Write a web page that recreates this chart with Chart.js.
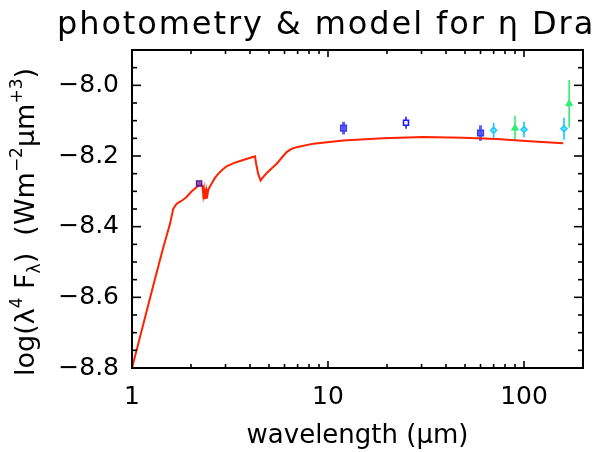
<!DOCTYPE html>
<html>
<head>
<meta charset="utf-8">
<script src="https://cdn.jsdelivr.net/npm/chart.js@4/dist/chart.umd.min.js"></script>
<style>
  html, body { margin: 0; padding: 0; background: #ffffff; }
  #wrap { width: 603px; height: 452px; }
</style>
</head>
<body>
<div id="wrap"><canvas id="c" width="603" height="452"></canvas></div>
<script>
// ---------- data ----------
const titleText = 'photometry & model for \u03B7 Dra';
const xAxisTitle = 'wavelength (\u03BCm)';

// model SED (wavelength in micron, log(lambda^4 F_lambda))
const modelWave = [1.00, 1.285, 1.445, 1.563, 1.625, 1.69, 1.75, 1.80, 1.90, 2.00, 2.14, 2.22,
  2.29, 2.31, 2.33, 2.35, 2.37, 2.39, 2.41, 2.43, 2.45, 2.50, 2.55, 2.65, 2.76, 2.90, 3.04, 3.30, 3.56, 3.90,
  4.24, 4.30, 4.40, 4.53, 4.70, 4.87, 5.47, 6.15, 6.50, 6.92, 8.42, 11.97, 19.1, 30.6, 49.0, 72.6, 107.0, 158.5];
const modelFlux = [-8.80, -8.566, -8.458, -8.392, -8.349, -8.335, -8.330, -8.326, -8.316, -8.302, -8.288, -8.279,
  -8.285, -8.310, -8.296, -8.322, -8.306, -8.318, -8.300, -8.308, -8.296, -8.286, -8.278, -8.262, -8.250, -8.238, -8.229, -8.220, -8.214, -8.207,
  -8.201, -8.222, -8.250, -8.269, -8.258, -8.248, -8.222, -8.189, -8.180, -8.175, -8.165, -8.156, -8.150, -8.146, -8.148, -8.152, -8.158, -8.164];

// photometry groups
const nirWave = [2.2];
const nirFlux = [-8.278];
const nirErr  = [0.004];

const irasFilledWave = [12.0, 60.0];
const irasFilledFlux = [-8.121, -8.135];
const irasFilledErr  = [0.018, 0.022];

const irasOpenWave = [25.0];
const irasOpenFlux = [-8.106];
const irasOpenErr  = [0.017];

const pacsWave = [70.0, 100.0, 160.0];
const pacsFlux = [-8.127, -8.125, -8.123];
const pacsErr  = [0.021, 0.022, 0.031];

const akariWave = [90.0, 170.0];
const akariFlux = [-8.121, -8.052];
const akariErr  = [0.035, 0.067];

// axes
const xMin = 1, xMax = 200;
const yMin = -8.8, yMax = -7.9;
const xTickLabels = [1, 10, 100];
const xMinorTicks = [2, 3, 4, 5, 6, 7, 8, 9, 20, 30, 40, 50, 60, 70, 80, 90];
const yMajorTicks = [-8.8, -8.6, -8.4, -8.2, -8.0];
const yMinorTicks = [-8.75, -8.7, -8.65, -8.55, -8.5, -8.45, -8.35, -8.3, -8.25, -8.15, -8.1, -8.05, -7.95];

// ---------- helpers ----------
function pts(xs, ys) { return xs.map((x, i) => ({ x: x, y: ys[i] })); }

const FONT = "'DejaVu Sans', 'Liberation Sans', sans-serif";

// error bars drawn through the scales
const errorBars = {
  id: 'errorBars',
  beforeDatasetsDraw(chart) {
    const { ctx, scales: { x, y } } = chart;
    ctx.save();
    chart.data.datasets.forEach(ds => {
      if (!ds.errors) return;
      ctx.strokeStyle = ds.errColor;
      ctx.lineWidth = ds.errWidth;
      ds.data.forEach((p, i) => {
        const px = x.getPixelForValue(p.x);
        ctx.beginPath();
        ctx.moveTo(px, y.getPixelForValue(p.y - ds.errors[i]));
        ctx.lineTo(px, y.getPixelForValue(p.y + ds.errors[i]));
        ctx.stroke();
      });
    });
    ctx.restore();
  }
};

// IDL-like frame with inward ticks, plus title texts
const frameAndText = {
  id: 'frameAndText',
  afterDraw(chart) {
    const { ctx, chartArea: a, scales: { x, y } } = chart;
    ctx.save();
    ctx.strokeStyle = '#000';
    ctx.lineWidth = 1.6;
    const seg = (x1, y1, x2, y2) => { ctx.beginPath(); ctx.moveTo(x1, y1); ctx.lineTo(x2, y2); ctx.stroke(); };
    xTickLabels.forEach(v => { const p = x.getPixelForValue(v); seg(p, a.bottom, p, a.bottom - 7); seg(p, a.top, p, a.top + 7); });
    xMinorTicks.forEach(v => { const p = x.getPixelForValue(v); seg(p, a.bottom, p, a.bottom - 4); seg(p, a.top, p, a.top + 4); });
    yMajorTicks.forEach(v => { const p = y.getPixelForValue(v); seg(a.left, p, a.left + 9, p); seg(a.right, p, a.right - 9, p); });
    yMinorTicks.forEach(v => { const p = y.getPixelForValue(v); seg(a.left, p, a.left + 5, p); seg(a.right, p, a.right - 5, p); });
    ctx.lineWidth = 2;
    ctx.strokeRect(a.left, a.top, a.right - a.left, a.bottom - a.top);

    // main title
    ctx.fillStyle = '#000';
    ctx.font = '32px ' + FONT;
    ctx.textAlign = 'left';
    ctx.textBaseline = 'alphabetic';
    ctx.letterSpacing = '1.9px';
    ctx.fillText(titleText, 57, 34);
    ctx.letterSpacing = '0px';

    // y-axis title with super/subscripts
    const parts = [
      { t: 'log(\u03BB', s: 0 }, { t: '4', s: 1 }, { t: ' F', s: 0 }, { t: '\u03BB', s: -1 },
      { t: ')  (Wm', s: 0 }, { t: '\u22122', s: 1 }, { t: '\u03BCm', s: 0 }, { t: '+3', s: 1 }, { t: ')', s: 0 }
    ];
    const big = '27px ' + FONT, small = '17px ' + FONT;
    let total = 0;
    parts.forEach(p => { ctx.font = p.s ? small : big; p.w = ctx.measureText(p.t).width; total += p.w; });
    ctx.translate(34, (a.top + a.bottom) / 2 + 13);
    ctx.rotate(-Math.PI / 2);
    let cx = -total / 2;
    parts.forEach(p => {
      ctx.font = p.s ? small : big;
      const dy = p.s === 1 ? -12 : (p.s === -1 ? 6 : 0);
      ctx.fillText(p.t, cx, dy);
      cx += p.w;
    });
    ctx.restore();
  }
};

const chart = new Chart(document.getElementById('c'), {
  data: {
    datasets: [
      { type: 'scatter', label: 'K', data: pts(nirWave, nirFlux), errors: nirErr, errColor: '#55229a', errWidth: 1.5,
        pointStyle: 'rect', pointRadius: 3.5, backgroundColor: 'rgba(140,60,200,0.6)', borderColor: '#4a1a90', borderWidth: 1.5 },
      { type: 'scatter', label: 'IRAS', data: pts(irasFilledWave, irasFilledFlux), errors: irasFilledErr, errColor: 'rgba(60,60,255,0.8)', errWidth: 3,
        pointStyle: 'rect', pointRadius: 4, backgroundColor: 'rgba(80,80,255,0.75)', borderColor: '#3838f0', borderWidth: 1.5 },
      { type: 'scatter', label: 'IRAS25', data: pts(irasOpenWave, irasOpenFlux), errors: irasOpenErr, errColor: '#1a1aff', errWidth: 1.6,
        pointStyle: 'rect', pointRadius: 3.5, backgroundColor: '#ffffff', borderColor: '#1a1aff', borderWidth: 1.6 },
      { type: 'scatter', label: 'PACS', data: pts(pacsWave, pacsFlux), errors: pacsErr, errColor: '#10c8ff', errWidth: 1.6,
        pointStyle: 'rectRot', pointRadius: 3, backgroundColor: 'rgba(120,220,255,0.5)', borderColor: '#10c8ff', borderWidth: 1.5 },
      { type: 'scatter', label: 'AKARI', data: pts(akariWave, akariFlux), errors: akariErr, errColor: '#30ee70', errWidth: 1.6,
        pointStyle: 'triangle', pointRadius: 4, backgroundColor: '#30ee70', borderColor: '#30ee70', borderWidth: 1 },
      { type: 'line', label: 'model', data: pts(modelWave, modelFlux), borderColor: '#ff2200', borderWidth: 2,
        pointRadius: 0, fill: false, tension: 0 }
    ]
  },
  options: {
    responsive: false,
    animation: false,
    events: [],
    layout: { padding: { top: 50, right: 20, left: 0, bottom: 0 } },
    plugins: { legend: { display: false }, tooltip: { enabled: false }, title: { display: false } },
    scales: {
      x: {
        type: 'logarithmic', min: xMin, max: xMax,
        grid: { display: false, drawTicks: false }, border: { display: false },
        afterBuildTicks: s => { s.ticks = xTickLabels.map(v => ({ value: v, major: true })); },
        afterFit: s => { s.height = 84; },
        ticks: { color: '#000', font: { family: FONT, size: 25 }, padding: 14, maxRotation: 0, autoSkip: false,
                 callback: v => String(v) },
        title: { display: true, text: xAxisTitle, color: '#000', font: { family: FONT, size: 26 }, padding: { top: 0, bottom: 0 } }
      },
      y: {
        type: 'linear', min: yMin, max: yMax,
        grid: { display: false, drawTicks: false }, border: { display: false },
        afterBuildTicks: s => { s.ticks = yMajorTicks.map(v => ({ value: v })); },
        afterFit: s => { s.width = 132; },
        ticks: { color: '#000', font: { family: FONT, size: 25 }, padding: 13,
                 callback: v => (v < 0 ? '\u2212' : '') + Math.abs(v).toFixed(1) }
      }
    }
  },
  plugins: [errorBars, frameAndText]
});
</script>
</body>
</html>
